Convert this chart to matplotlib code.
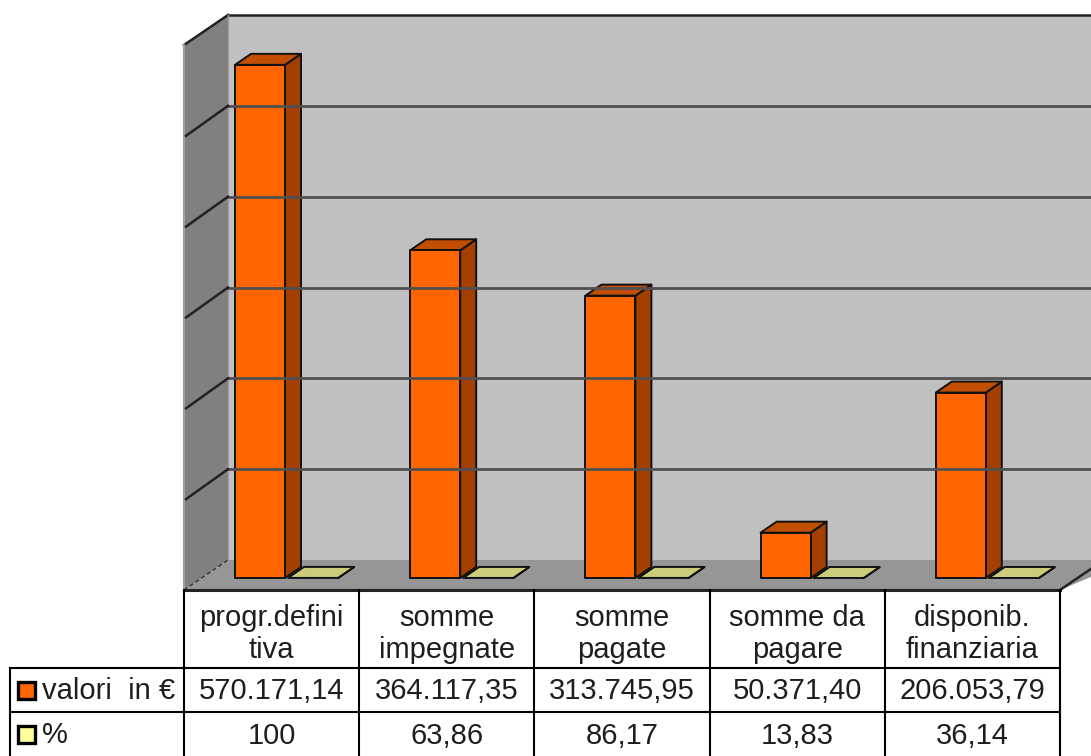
import numpy as np
import matplotlib.pyplot as plt
from matplotlib.patches import Polygon, Rectangle

plt.rcParams['font.family'] = ['Liberation Sans', 'DejaVu Sans']

# =========================================================
# Data
# =========================================================
categories = ["progr.defini\ntiva", "somme\nimpegnate", "somme\npagate",
              "somme da\npagare", "disponib.\nfinanziaria"]
valori = [570171.14, 364117.35, 313745.95, 50371.40, 206053.79]
percent = [100, 63.86, 86.17, 13.83, 36.14]
series_names = ["valori  in €", "%"]
y_max = 600000
y_step = 100000


def fmt_it(v, dec=2):
    s = f"{v:,.{dec}f}"
    return s.replace(",", "X").replace(".", ",").replace("X", ".")


def fmt_pct(v):
    return str(int(v)) if float(v).is_integer() else fmt_it(v)


# =========================================================
# Geometry (pixel space)
# =========================================================
W, H = 1091, 756
x_left, x_right = 184, 1060          # front edge of floor / table
floor_front, floor_back = 590, 560
ddx, ddy = 44, -30                   # wall depth offset
wall_top = 15
scale_back = (floor_back - wall_top) / y_max
bar_base = 578
bar_dx, bar_dy = 16, -11
scale_bar = 540 / y_max
cat_w = (x_right - x_left) / len(categories)
bar_w = 50

c_back = '#C0C0C0'
c_side = '#808080'
c_floor = '#969696'
c_grid = '#505050'

fig = plt.figure(figsize=(W / 100, H / 100), dpi=100)
ax = fig.add_axes([0, 0, 1, 1])
ax.set_xlim(0, W)
ax.set_ylim(H, 0)
ax.axis('off')

# walls
ax.add_patch(Polygon([(x_left + ddx, wall_top), (W + 5, wall_top),
                      (W + 5, floor_back), (x_left + ddx, floor_back)],
                     closed=True, fc=c_back, ec='none'))
ax.add_patch(Polygon([(x_left, floor_front), (x_left, wall_top - ddy),
                      (x_left + ddx, wall_top), (x_left + ddx, floor_back)],
                     closed=True, fc=c_side, ec='none'))
ax.add_patch(Polygon([(x_left, floor_front), (x_left + ddx, floor_back),
                      (W + 40, floor_back), (x_right, floor_front)],
                     closed=True, fc=c_floor, ec='none'))

# top edges of walls
ax.plot([x_left + ddx, W], [wall_top, wall_top], color='#222222', lw=1.8)
ax.plot([x_left, x_left + ddx], [wall_top - ddy, wall_top], color='#222222', lw=1.8)
ax.plot([x_left + ddx, x_left + ddx], [wall_top, floor_back], color='#a0a0a0', lw=1)
ax.plot([x_left, x_left], [wall_top - ddy, floor_front], color='#a0a0a0', lw=1.5)

# gridlines
for v in np.arange(y_step, y_max, y_step):
    yb = floor_back - v * scale_back
    ax.plot([x_left + ddx, W], [yb, yb], color=c_grid, lw=2)
    ax.plot([x_left + 2, x_left + ddx], [yb - ddy, yb], color='#222222', lw=1.8)

ax.plot([x_left, x_left + ddx], [floor_front, floor_back], color='#333333', lw=1, ls=(0, (3, 2)))
ax.plot([x_right, x_right + 40], [floor_front, floor_front - 40 * 30 / 44], color='#222222', lw=1.8)


def draw_bar(x0, h, front, side, top):
    yb = bar_base
    yt = yb - h
    kw = dict(ec='#111111', lw=1.4, joinstyle='round')
    ax.add_patch(Polygon([(x0 + bar_w, yb), (x0 + bar_w + bar_dx, yb + bar_dy),
                          (x0 + bar_w + bar_dx, yt + bar_dy), (x0 + bar_w, yt)],
                         closed=True, fc=side, **kw))
    ax.add_patch(Polygon([(x0, yt), (x0 + bar_dx, yt + bar_dy),
                          (x0 + bar_w + bar_dx, yt + bar_dy), (x0 + bar_w, yt)],
                         closed=True, fc=top, **kw))
    if h > 1:
        ax.add_patch(Rectangle((x0, yt), bar_w, h, fc=front, **kw))


for i in range(len(categories)):
    x0 = x_left + 51 + i * cat_w
    draw_bar(x0, valori[i] * scale_bar, '#FF6600', '#A33F00', '#C24E00')
    draw_bar(x0 + bar_w + 3, percent[i] * scale_bar, '#FFFF99', '#999966', '#CCCC7A')

# =========================================================
# Data table
# =========================================================
row1_top, row1_bot, row2_bot = 668, 712, 756
lk = dict(color='black', lw=1.5)
ax.plot([x_left, x_right], [floor_front, floor_front], color='#222222', lw=2.2)
for k in range(len(categories) + 1):
    xx = x_left + k * cat_w
    ax.plot([xx, xx], [floor_front, row2_bot + 5], **lk)
ax.plot([10, x_right], [row1_top, row1_top], **lk)
ax.plot([10, x_right], [row1_bot, row1_bot], **lk)
ax.plot([10, 10], [row1_top, row2_bot + 5], **lk)

fs = 21
tc = '#1e1e1e'
for i, cat in enumerate(categories):
    xc = x_left + (i + 0.5) * cat_w
    ax.text(xc, (floor_front + row1_top) / 2 + 5, cat, ha='center', va='center',
            fontsize=fs, color=tc, linespacing=1.2)
    ax.text(xc, (row1_top + row1_bot) / 2 + 1, fmt_it(valori[i]), ha='center',
            va='center', fontsize=fs, color=tc)
    ax.text(xc, (row1_bot + row2_bot) / 2 + 2, fmt_pct(percent[i]), ha='center',
            va='center', fontsize=fs, color=tc)

# legend keys
for (yy, col, name) in [((row1_top + row1_bot) / 2, '#FF6600', series_names[0]),
                        ((row1_bot + row2_bot) / 2, '#FFFF99', series_names[1])]:
    ax.add_patch(Rectangle((18, yy - 8), 17, 17, fc=col, ec='black', lw=2.4))
    ax.text(42, yy + 1, name, ha='left', va='center', fontsize=fs, color=tc)

fig.savefig('out.png', dpi=100)
